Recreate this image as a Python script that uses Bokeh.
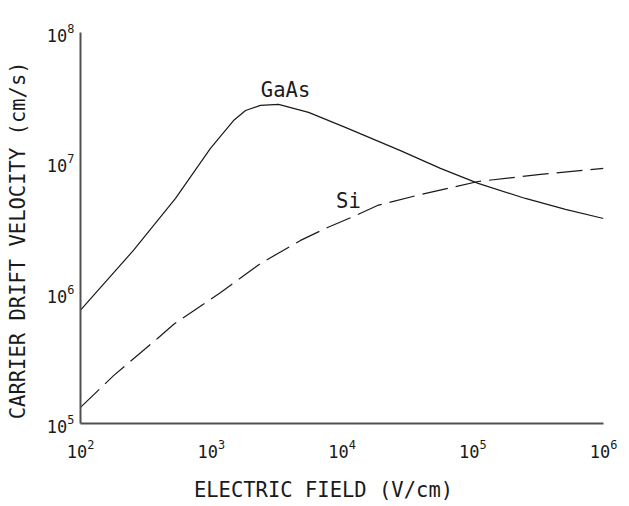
from bokeh.plotting import figure
from bokeh.models import Range1d, Label, FixedTicker
from bokeh.embed import file_html
from bokeh.resources import INLINE

# ---- data ----
gaas_field = [1.0e2, 2.54e2, 5.33e2, 9.86e2, 1.48e3, 1.83e3, 2.38e3, 3.27e3,
              5.55e3, 1.06e4, 2.8e4, 5.66e4, 1.1e5, 2.53e5, 5.12e5, 1.0e6]
gaas_vel = [7.4e5, 2.13e6, 5.33e6, 1.29e7, 2.11e7, 2.52e7, 2.76e7, 2.81e7,
            2.44e7, 1.87e7, 1.24e7, 9.06e6, 6.95e6, 5.33e6, 4.39e6, 3.74e6]

si_field = [1e2, 1.79e2, 3.88e2, 5.14e2, 1.18e3, 2.38e3, 4.82e3, 7.75e3,
            1.27e4, 1.87e4, 3.98e4, 1.1e5, 3.3e5, 1e6]
si_vel = [1.33e5, 2.33e5, 4.49e5, 5.75e5, 1.01e6, 1.69e6, 2.54e6, 3.19e6,
          3.94e6, 4.71e6, 5.71e6, 7.19e6, 8.15e6, 9.06e6]

x_ticks = [1e2, 1e3, 1e4, 1e5, 1e6]
y_ticks = [1e5, 1e6, 1e7, 1e8]
x_title = "ELECTRIC FIELD (V/cm)"
y_title = "CARRIER DRIFT VELOCITY (cm/s)"
series_names = ["GaAs", "Si"]

FONT = "DejaVu Sans Mono"
INK = "#1a1a1a"
BIG = "20.5px"
PAD = "\u00a0"  # non-breaking pad to shift the centred titles like the original

p = figure(width=629, height=506, x_axis_type="log", y_axis_type="log",
           x_range=Range1d(1e2, 1e6), y_range=Range1d(1e5, 1e8),
           output_backend="svg", toolbar_location=None,
           min_border_left=80, min_border_right=26,
           min_border_top=32, min_border_bottom=83)
p.outline_line_color = None
p.grid.visible = False
p.background_fill_color = "white"
p.border_fill_color = "white"

p.xaxis.ticker = FixedTicker(ticks=x_ticks, minor_ticks=[])
p.yaxis.ticker = FixedTicker(ticks=y_ticks, minor_ticks=[])
for ax in (p.xaxis, p.yaxis):
    ax.axis_line_color = "#505050"
    ax.axis_line_width = 2
    ax.major_tick_line_color = None
    ax.minor_tick_line_color = None
    ax.major_tick_out = 0
    ax.major_tick_in = 0
    ax.minor_tick_out = 0
    ax.minor_tick_in = 0
    ax.major_label_text_font = FONT
    ax.major_label_text_font_size = "17px"
    ax.major_label_text_color = INK
    ax.axis_label_text_font = FONT
    ax.axis_label_text_font_size = BIG
    ax.axis_label_text_font_style = "normal"
    ax.axis_label_text_color = INK

p.xaxis.major_label_standoff = 15
p.yaxis.major_label_standoff = 6
p.xaxis.axis_label = x_title + PAD * 3
p.yaxis.axis_label = y_title + PAD * 2
p.xaxis.axis_label_standoff = 17
p.yaxis.axis_label_standoff = 14

# curves
p.line(gaas_field, gaas_vel, line_color=INK, line_width=1.2)
p.line(si_field, si_vel, line_color=INK, line_width=1.2, line_dash="26 8")

# curve labels
p.add_layout(Label(x=3.7e3, y=3.6e7, text=series_names[0], text_font=FONT,
                   text_font_size=BIG, text_color=INK,
                   text_align="center", text_baseline="middle"))
p.add_layout(Label(x=1.12e4, y=5.14e6, text=series_names[1], text_font=FONT,
                   text_font_size=BIG, text_color=INK,
                   text_align="center", text_baseline="middle"))

open("out.html", "w").write(file_html(p, INLINE))
